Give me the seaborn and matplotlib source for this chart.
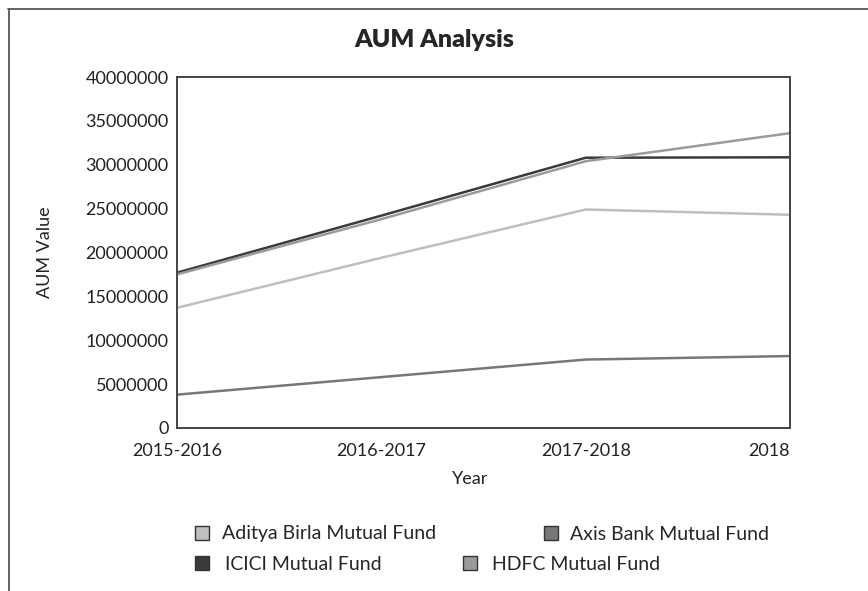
import pandas as pd
import matplotlib.pyplot as plt
import seaborn as sns
from matplotlib.patches import Patch
from matplotlib.lines import Line2D

# data
years = ["2015-2016", "2016-2017", "2017-2018", "2018"]
aditya_birla = [13700000, 19400000, 24900000, 24300000]
axis_bank = [3800000, 5800000, 7800000, 8200000]
icici = [17700000, 24200000, 30800000, 30850000]
hdfc = [17500000, 23800000, 30400000, 33600000]

funds = ["Aditya Birla Mutual Fund", "Axis Bank Mutual Fund", "ICICI Mutual Fund", "HDFC Mutual Fund"]
colors = ["#bfbfbf", "#777777", "#3a3a3a", "#9b9b9b"]

df = pd.DataFrame({
    "Year": years * 4,
    "AUM": aditya_birla + axis_bank + icici + hdfc,
    "Fund": [f for f in funds for _ in years],
})

sns.set_theme(style="white")
plt.rcParams['font.family'] = ['Lato', 'DejaVu Sans']

W, H = 868, 591
fig = plt.figure(figsize=(W / 100, H / 100), dpi=100)
ax = fig.add_axes([177/W, 1 - 428/H, (790-177)/W, (428-77)/H])

sns.lineplot(data=df, x="Year", y="AUM", hue="Fund", palette=dict(zip(funds, colors)),
             linewidth=1.8, legend=False, ax=ax, sort=False)

ax.set_xlim(0, 3)
ax.set_ylim(0, 40000000)
ax.set_yticks(range(0, 40000001, 5000000))
ax.set_yticklabels([str(v) for v in range(0, 40000001, 5000000)], fontsize=13, color="#222222")
ax.set_xticks(range(4))
ax.set_xticklabels(years, fontsize=13, color="#222222")
ax.get_xticklabels()[-1].set_ha("right")
ax.tick_params(axis="y", length=0, pad=6)
ax.tick_params(axis="x", length=0, pad=11)
for s in ax.spines.values():
    s.set_color("#444444")
    s.set_linewidth(1.4)
ax.set_xlabel("Year", fontsize=13, color="#222222")
ax.xaxis.set_label_coords((470-177)/(790-177), -(471-428)/(428-77))
ax.set_ylabel("AUM Value", fontsize=13, color="#222222", labelpad=23)

fig.suptitle("AUM Analysis", fontsize=18, fontweight="heavy", x=0.5, y=1 - 29/H, va="top")

# legend entries placed one by one, as in the original
def add_item(x, y, color, label, pad):
    h = Patch(facecolor=color, edgecolor="#333333", linewidth=1.0)
    fig.legend([h], [label], loc="center left", bbox_to_anchor=(x / W, 1 - y / H),
               frameon=False, fontsize=14, borderpad=0, borderaxespad=0,
               handlelength=0.72, handleheight=0.72, handletextpad=pad)

add_item(195, 534, colors[0], funds[0], 0.68)
add_item(544, 534, colors[1], funds[1], 0.62)
add_item(195, 564, colors[2], funds[2], 0.82)
add_item(463, 564, colors[3], funds[3], 0.78)

# outer frame (top and left edges)
fig.add_artist(Line2D([8/W, 1], [1 - 9/H, 1 - 9/H], color="#555555", linewidth=1.3))
fig.add_artist(Line2D([9/W, 9/W], [0, 1 - 9/H], color="#555555", linewidth=1.3))

plt.savefig("out.png", dpi=100)
